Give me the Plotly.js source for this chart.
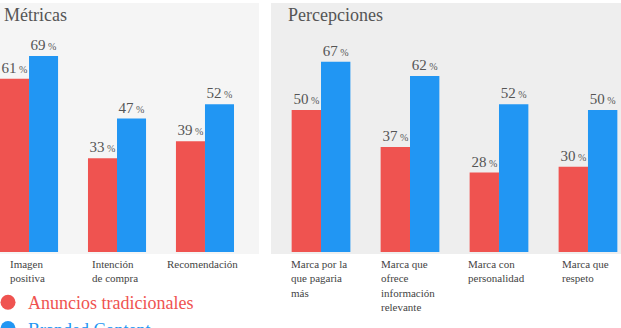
<!DOCTYPE html>
<html>
<head>
<meta charset="utf-8">
<script src="https://cdn.plot.ly/plotly-3.0.1.min.js"></script>
<style>html,body{margin:0;padding:0;background:#fff;}#chart{width:621px;height:328px;}</style>
</head>
<body>
<div id="chart"></div>
<script>
// ---- Data ----
const seriesNames = ['Anuncios tradicionales', 'Branded Content'];
const catsMetricas = ['Imagen<br>positiva', 'Intención<br>de compra', 'Recomendación'];
const tradMetricas = [61, 33, 39];
const brandMetricas = [69, 47, 52];
const catsPercepciones = ['Marca por la<br>que pagaria<br>más', 'Marca que<br>ofrece<br>información<br>relevante', 'Marca con<br>personalidad', 'Marca que<br>respeto'];
const tradPercepciones = [50, 37, 28, 30];
const brandPercepciones = [67, 62, 52, 50];
const panelTitles = ['Métricas', 'Percepciones'];

// ---- Styling ----
const W = 621, H = 328;
const RED = '#ef5350', BLUE = '#2196f3';
const FONT = 'Liberation Serif, serif';
const px = v => v / W;
const py = v => 1 - v / H;

const textTpl = '%{y}<span style="font-size:10px"> %</span>';
function barTrace(cats, vals, color, xa, ya) {
  return {
    type: 'bar', x: cats.map((c, i) => i), y: vals, xaxis: xa, yaxis: ya,
    marker: {color: color, line: {width: 0}},
    texttemplate: textTpl, textposition: 'outside', constraintext: 'none',
    cliponaxis: false, textfont: {family: FONT, size: 15, color: '#555'},
    showlegend: false, hoverinfo: 'skip'
  };
}

const traces = [
  barTrace(catsMetricas, tradMetricas, RED, 'x', 'y'),
  barTrace(catsMetricas, brandMetricas, BLUE, 'x', 'y'),
  barTrace(catsPercepciones, tradPercepciones, RED, 'x2', 'y2'),
  barTrace(catsPercepciones, brandPercepciones, BLUE, 'x2', 'y2'),
  {type: 'scatter', mode: 'markers', x: [null], y: [null], xaxis: 'x', yaxis: 'y',
   name: '<span style="color:' + RED + '">' + seriesNames[0] + '</span>',
   marker: {color: RED, size: 15, symbol: 'circle'}, hoverinfo: 'skip'},
  {type: 'scatter', mode: 'markers', x: [null], y: [null], xaxis: 'x', yaxis: 'y',
   name: '<span style="color:' + BLUE + '">' + seriesNames[1] + '</span>',
   marker: {color: BLUE, size: 15, symbol: 'circle'}, hoverinfo: 'skip'}
];

const yDom = [py(254), py(3)];
const yRange = [-0.7, 87.7];
const axisCommon = {showgrid: false, zeroline: false, showline: false, ticks: '', showticklabels: false, fixedrange: true, automargin: false};

const annotations = [];
function catLabels(cats, xa) {
  cats.forEach((c, i) => annotations.push({
    text: c, x: i, xref: xa, y: py(256), yref: 'paper', xanchor: 'center', yanchor: 'top',
    align: 'left', showarrow: false, xshift: -2,
    font: {family: FONT, size: 11, color: '#444'}
  }));
}
catLabels(catsMetricas, 'x');
catLabels(catsPercepciones, 'x2');
annotations.push({text: panelTitles[0], x: px(2), y: py(15), xref: 'paper', yref: 'paper',
  xanchor: 'left', yanchor: 'middle', showarrow: false, font: {family: FONT, size: 18, color: '#555'}});
annotations.push({text: panelTitles[1], x: px(286), y: py(15), xref: 'paper', yref: 'paper',
  xanchor: 'left', yanchor: 'middle', showarrow: false, font: {family: FONT, size: 18, color: '#555'}});

const layout = {
  width: W, height: H,
  margin: {l: 0, r: 0, t: 0, b: 0, pad: 0, autoexpand: false},
  paper_bgcolor: '#ffffff', plot_bgcolor: 'rgba(0,0,0,0)',
  font: {family: FONT, color: '#444'},
  barmode: 'group', bargap: 0.34, bargroupgap: 0,
  xaxis: Object.assign({domain: [0, px(259)], range: [-0.33, 2.614], type: 'linear'}, axisCommon),
  yaxis: Object.assign({domain: yDom, range: yRange}, axisCommon),
  xaxis2: Object.assign({domain: [px(271), 1], range: [-0.562, 3.371], type: 'linear', anchor: 'y2'}, axisCommon),
  yaxis2: Object.assign({domain: yDom, range: yRange, anchor: 'x2'}, axisCommon),
  shapes: [
    {type: 'rect', xref: 'paper', yref: 'paper', x0: 0, x1: px(259), y0: yDom[0], y1: yDom[1],
     fillcolor: '#f5f5f5', line: {width: 0}, layer: 'below'},
    {type: 'rect', xref: 'paper', yref: 'paper', x0: px(271), x1: 1, y0: yDom[0], y1: yDom[1],
     fillcolor: '#eeeeee', line: {width: 0}, layer: 'below'}
  ],
  annotations: annotations,
  showlegend: true,
  legend: {x: px(-12), y: py(284), xanchor: 'left', yanchor: 'top', orientation: 'v',
    bgcolor: 'rgba(0,0,0,0)', borderwidth: 0, tracegroupgap: 0,
    font: {family: FONT, size: 18}, itemclick: false, itemdoubleclick: false}
};

Plotly.newPlot('chart', traces, layout, {staticPlot: true, displayModeBar: false});
</script>
</body>
</html>
